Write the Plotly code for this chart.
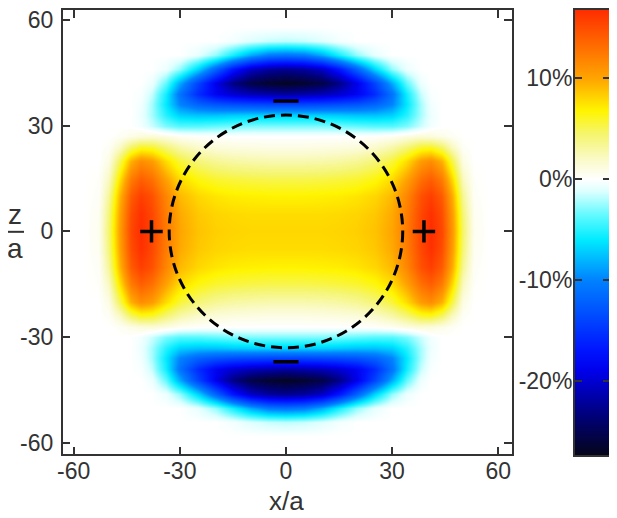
import numpy as np
import plotly.graph_objects as go

# Map values (%) for the quadrant x >= 0, z >= 0.
# The picture is symmetric about both axes, so the other quadrants are mirrored.
XQ = [0, 5, 10, 15, 20, 25, 30, 34, 38, 41, 44, 47, 50, 53, 57, 64]
ZQ = [0, 5, 10, 15, 20, 24, 27, 30, 33, 36, 39, 42, 46, 50, 54, 58, 64]
FIELD_Q = [
    [8.0, 8.0, 8.0, 8.1, 8.3, 8.8, 10.0, 12.5, 15.5, 16.8, 15.3, 10.5, 4.5, 0.6, 0, 0],
    [7.8, 7.8, 7.8, 7.9, 8.1, 8.6, 9.8, 12.3, 15.3, 16.6, 15.0, 10.2, 4.2, 0.5, 0, 0],
    [6.9, 6.9, 7.0, 7.1, 7.4, 8.0, 9.2, 11.8, 14.8, 15.8, 14.2, 9.4, 3.4, 0.3, 0, 0],
    [5.2, 5.2, 5.3, 5.5, 5.8, 6.5, 7.8, 10.2, 13.0, 14.0, 12.3, 7.6, 2.2, 0.2, 0, 0],
    [2.7, 2.7, 2.8, 3.0, 3.4, 4.2, 5.6, 7.8, 10.5, 11.3, 9.5, 5.0, 1.0, 0, 0, 0],
    [0.9, 0.9, 1.0, 1.1, 1.3, 1.8, 2.8, 4.2, 5.8, 6.0, 4.6, 2.0, 0.3, 0, 0, 0],
    [0, 0, 0, 0, 0, 0.1, 0.4, 1.0, 1.4, 1.2, 0.8, 0.3, 0, 0, 0, 0],
    [-3.0, -3.0, -3.0, -3.2, -3.5, -3.8, -3.8, -3.0, -1.5, -0.4, 0, 0, 0, 0, 0, 0],
    [-7.0, -7.0, -7.0, -7.2, -7.5, -7.5, -7.0, -5.0, -2.2, -0.6, 0, 0, 0, 0, 0, 0],
    [-14.0, -14.0, -13.8, -13.5, -13.0, -12.0, -10.0, -6.0, -2.2, -0.4, 0, 0, 0, 0, 0, 0],
    [-22.0, -21.5, -21.0, -20.0, -18.5, -15.5, -11.0, -5.5, -1.6, -0.2, 0, 0, 0, 0, 0, 0],
    [-27.0, -26.5, -25.5, -23.0, -19.0, -14.0, -8.5, -3.5, -0.6, 0, 0, 0, 0, 0, 0, 0],
    [-22.5, -22.0, -20.5, -17.0, -12.0, -6.8, -2.6, -0.6, 0, 0, 0, 0, 0, 0, 0, 0],
    [-11.0, -10.5, -8.5, -5.5, -2.6, -0.8, 0, 0, 0, 0, 0, 0, 0, 0, 0, 0],
    [-1.8, -1.6, -1.1, -0.4, 0, 0, 0, 0, 0, 0, 0, 0, 0, 0, 0, 0],
    [0] * 16,
    [0] * 16,
]

CIRCLE_R = 33
PLUS_X, PLUS_Z = [-38, 39], [0, 0]
MINUS_X, MINUS_Z = [0, 0], [37, -37]

AX_TICKS = [-60, -30, 0, 30, 60]
AX_TEXT = ["-60", "-30", "0", "30", "60"]
CB_MIN, CB_MAX = -27.4, 17.07
CB_TICKS = [-20, -10, 0, 10]
CB_TEXT = ["-20%", "-10%", "0%", "10%"]

# colour stops of the bar, by value (%)
STOP_V = [-27.4, -23.5, -19, -17, -10, -6, -3.5, -1.2, 0, 2, 4.5, 6.8, 10, 14, 17.07]
STOP_C = ["#05051a", "#000078", "#0000eb", "#0014ff", "#0082ff", "#00ebff", "#64faff",
          "#dcffff", "#ffffff", "#fafac8", "#f5f56e", "#fff500", "#ffa500", "#ff5f00",
          "#ff2800"]

# ---- mirror the quadrant into the full map
q = np.array(FIELD_Q, dtype=float)
rows = np.vstack([q[:0:-1], q])
field = np.hstack([rows[:, :0:-1], rows])
x_full = [-v for v in XQ[:0:-1]] + XQ
z_full = [-v for v in ZQ[:0:-1]] + ZQ

span = CB_MAX - CB_MIN
colorscale = [[(v - CB_MIN) / span, c] for v, c in zip(STOP_V, STOP_C)]

INK = "#333333"
FONT = "Liberation Sans"
W, H = 617, 518
OFF = 8                      # the page body adds an 8px margin
FW, FH = W - OFF, H - OFF


def px(p):
    return (p - OFF) / FW


def py(p):
    return min(1.0, 1 - (p - OFF) / FH)


fig = go.Figure()
fig.add_heatmap(x=x_full, y=z_full, z=field, coloraxis="coloraxis",
                zsmooth="best", hoverinfo="skip")
# colour bar drawn as its own little axis so the labels sit on the left
fig.add_heatmap(x=[0, 1], y=[CB_MIN, CB_MAX],
                z=[[CB_MIN, CB_MIN], [CB_MAX, CB_MAX]],
                xaxis="x2", yaxis="y2", coloraxis="coloraxis",
                zsmooth="best", hoverinfo="skip")
fig.add_scatter(x=PLUS_X, y=PLUS_Z, mode="markers", hoverinfo="skip",
                marker=dict(symbol="cross-thin", size=16,
                            line=dict(width=3.5, color="black")))
fig.add_scatter(x=MINUS_X, y=MINUS_Z, mode="markers", hoverinfo="skip",
                marker=dict(symbol="line-ew", size=18,
                            line=dict(width=3.5, color="black")))
fig.add_shape(type="circle", xref="x", yref="y",
              x0=-CIRCLE_R, x1=CIRCLE_R, y0=-CIRCLE_R, y1=CIRCLE_R,
              line=dict(color="black", width=3, dash="11px,6px"))

axis_common = dict(showgrid=False, zeroline=False, showline=True, linecolor=INK,
                   linewidth=1.5, ticks="inside", ticklen=8, tickwidth=1.5,
                   tickcolor=INK, mirror="ticks", automargin=False,
                   ticklabeloverflow="allow",
                   tickfont=dict(family=FONT, size=23, color=INK))

# top edge is pinned to the page margin (8px); the y range leaves room for the "60"
fig.update_layout(
    width=FW, height=FH, margin=dict(l=0, r=0, t=0, b=0),
    paper_bgcolor="white", plot_bgcolor="white", showlegend=False,
    coloraxis=dict(colorscale=colorscale, cmin=CB_MIN, cmax=CB_MAX, showscale=False),
    xaxis=dict(axis_common, domain=[px(62.7), px(511.7)], range=[-63.1, 63.8],
               tickvals=AX_TICKS, ticktext=AX_TEXT, ticklabelstandoff=-5),
    yaxis=dict(axis_common, domain=[py(454), py(8)], range=[-63.2, 62.8],
               tickvals=AX_TICKS, ticktext=AX_TEXT, ticklabelstandoff=3),
    xaxis2=dict(domain=[px(574.7), px(610.7)], range=[0, 1], anchor="y2",
                showticklabels=False, ticks="", showgrid=False, zeroline=False,
                showline=True, linecolor=INK, linewidth=1.5, mirror=True),
    yaxis2=dict(axis_common, domain=[py(455), py(8)], range=[CB_MIN, 16.75],
                anchor="x2", side="left", tickvals=CB_TICKS, ticktext=CB_TEXT,
                ticklabelstandoff=-4),
)

label_font = dict(family=FONT, size=28, color=INK)
fig.add_annotation(text="x/a", xref="paper", yref="paper", x=px(286), y=py(501),
                   xanchor="center", yanchor="middle", showarrow=False,
                   font=dict(family=FONT, size=26, color=INK))
# the "z over a" label on the left
fig.add_annotation(text="z", xref="paper", yref="paper", x=px(14.5), y=py(213),
                   xanchor="center", yanchor="middle", showarrow=False, font=label_font)
fig.add_annotation(text="a", xref="paper", yref="paper", x=px(14.5), y=py(247),
                   xanchor="center", yanchor="middle", showarrow=False, font=label_font)
fig.add_shape(type="line", xref="paper", yref="paper",
              x0=px(5), x1=px(24), y0=py(230.7), y1=py(230.7),
              line=dict(color=INK, width=2))

fig.write_html("out.html")
